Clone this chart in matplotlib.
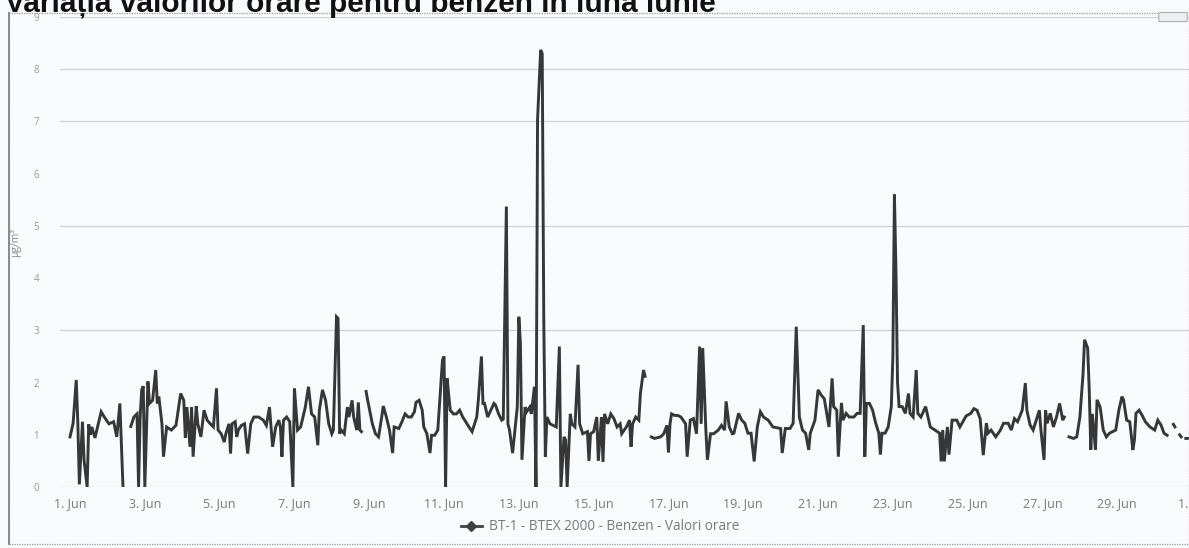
import numpy as np
import matplotlib
matplotlib.use("Agg")
import matplotlib.pyplot as plt
from matplotlib.patches import Rectangle, FancyBboxPatch
from matplotlib.lines import Line2D

nan = np.nan

# ore de la 1 iunie 00:00 si valorile orare citite (µg/m³); nan = lipsa date
hours = [
    0, 2, 4, 5, 6, 8, 9, 11, 12, 13, 14, 16, 20, 22, 25, 28, 30, 32, 34, 35,
    39, 41, 43, 44, 45, 46, 47, 48, 50, 51, 53, 55, 56, 57, 59, 60, 62, 65, 68, 71,
    73, 74, 75, 77, 78, 79, 81, 82, 84, 86, 88, 90, 92, 94, 95, 97, 99, 100, 102, 103,
    104, 106, 107, 108, 110, 112, 114, 116, 118, 121, 124, 126, 128, 130, 132, 134, 135, 136, 137, 139,
    141, 143, 144, 146, 148, 151, 153, 155, 157, 159, 160, 162, 164, 166, 168, 169, 171, 172, 173, 174,
    176, 178, 179, 181, 182, 184, 185, 186, 187, 188, 190, 191, 194, 196, 198, 200, 201, 203, 205, 207,
    208, 211, 213, 215, 217, 219, 221, 222, 224, 226, 227, 229, 231, 232, 234, 236, 239, 240, 241, 242,
    243, 244, 246, 248, 250, 252, 256, 258, 261, 262, 264, 265, 266, 268, 270, 272, 273, 275, 277, 278,
    280, 281, 282, 284, 287, 288, 289, 290, 292, 293, 295, 296, 298, 299, 300, 302, 303, 304, 305, 306,
    308, 310, 312, 314, 315, 317, 318, 319, 321, 322, 324, 326, 327, 329, 332, 333, 334, 336, 338, 339,
    341, 342, 343, 345, 347, 349, 351, 353, 354, 357, 359, 360, 361, 363, 365, 366, 368, 369, 372, 373,
    375, 379, 381, 383, 384, 385, 386, 388, 390, 392, 395, 396, 398, 400, 402, 404, 405, 406, 408, 409,
    411, 413, 416, 418, 420, 421, 423, 425, 426, 429, 431, 433, 435, 437, 439, 441, 443, 445, 448, 451,
    456, 457, 459, 462, 464, 466, 468, 470, 472, 474, 475, 478, 480, 482, 484, 487, 489, 490, 492, 493,
    495, 496, 498, 500, 503, 505, 507, 509, 510, 511, 513, 515, 517, 519, 520, 521, 523, 525, 527, 528,
    529, 530, 531, 532, 534, 536, 538, 539, 541, 543, 544, 546, 549, 552, 555, 558, 559, 560, 561, 563,
    564, 566, 569, 571, 575, 578, 580, 582, 584, 586, 588, 589, 591, 594, 597, 599, 602, 604, 606, 608,
    611, 613, 614, 616, 618, 620, 622, 623, 625, 626, 627, 629, 631, 633, 635, 637, 638, 640, 641, 644,
    646, 648, 650, 651, 653, 654, 655, 656, 658, 659, 661, 663, 665, 667, 671, 673, 675, 676, 678, 680,
    682, 683, 684, 686, 688, 690, 693, 696, 698, 700, 702, 704, 705, 708, 709, 710, 712, 713, 714, 716,
    717,
]
benzen = [
    0.96, 1.22, 2.05, 1.25, 0.05, 1.25, 0.52, 0.0, 1.2, 1.0, 1.15, 0.94, 1.44, 1.34, 1.21, 1.25, 0.96, 1.6, 0.0, nan,
    1.16, 1.34, 1.40, 0.0, 1.34, 1.86, 1.93, 0.0, 2.02, 1.6, 1.66, 2.24, 1.6, 1.73, 1.21, 0.58, 1.15, 1.09, 1.18, 1.79,
    1.66, 0.94, 1.53, 0.77, 1.53, 0.58, 1.55, 1.21, 0.96, 1.47, 1.28, 1.21, 1.15, 1.89, 1.09, 1.02, 0.86, 1.02, 1.21, 0.64,
    1.21, 1.25, 0.96, 1.09, 1.18, 1.21, 0.64, 1.21, 1.34, 1.34, 1.28, 1.18, 1.53, 0.77, 1.15, 1.28, 1.15, 0.58, 1.28, 1.34,
    1.25, 0.0, 1.89, 1.09, 1.15, 1.53, 1.92, 1.40, 1.34, 0.80, 1.47, 1.86, 1.66, 1.21, 1.02, 1.09, 3.26, 3.23, 1.02, 1.09,
    1.02, 1.53, 1.34, 1.66, 1.34, 1.09, 1.62, 1.09, 1.06, nan, 1.83, 1.66, 1.21, 1.02, 0.96, 1.34, 1.55, 1.34, 1.09, 0.65,
    1.15, 1.12, 1.25, 1.40, 1.34, 1.34, 1.44, 1.62, 1.66, 1.47, 1.15, 1.02, 0.65, 0.99, 0.99, 1.09, 2.43, 2.5, 0.0, 2.08,
    1.76, 1.47, 1.40, 1.40, 1.47, 1.34, 1.15, 1.06, 1.34, 1.66, 2.5, 1.6, 1.6, 1.34, 1.47, 1.6, 1.57, 1.40, 1.28, 1.3,
    5.37, 1.21, 1.09, 0.65, 1.53, 3.26, 2.76, 0.52, 1.53, 1.44, 1.53, 1.40, 1.92, 0.0, 7.03, 8.37, 8.3, 3.2, 0.58, 1.34,
    1.21, 1.18, 1.15, 2.69, 0.0, 0.96, 0.9, 0.0, 1.40, 1.21, 1.15, 2.34, 1.21, 1.02, 1.06, 0.5, 1.02, 1.06, 1.34, 0.5,
    1.34, 0.48, 1.40, 1.21, 1.40, 1.31, 1.15, 1.21, 1.02, 1.15, 1.28, 0.77, 1.21, 1.34, 1.28, 1.79, 2.24, 2.12, nan, 0.96,
    0.93, 0.96, 1.02, 1.18, 0.66, 1.21, 1.40, 1.37, 1.37, 1.34, 1.21, 0.58, 1.28, 1.31, 1.02, 2.69, 1.21, 2.66, 1.09, 0.52,
    1.02, 1.02, 1.09, 1.18, 1.09, 1.64, 1.15, 1.02, 1.03, 1.41, 1.28, 1.22, 1.03, 1.03, 0.49, 1.15, 1.44, 1.34, 1.28, 1.15,
    1.12, 0.65, 1.12, 1.12, 1.22, 3.07, 1.34, 1.09, 1.03, 0.71, 1.03, 1.28, 1.86, 1.76, 1.69, 1.15, 2.08, 1.54, 1.47, 0.58,
    1.61, 1.28, 1.41, 1.34, 1.34, 1.41, 1.41, 3.10, 0.58, 1.60, 1.60, 1.47, 1.22, 1.03, 0.62, 1.03, 1.03, 1.15, 1.54, 2.5,
    5.6, 4.1, 2.0, 1.54, 1.54, 1.41, 1.79, 1.41, 1.34, 2.24, 1.41, 1.34, 1.54, 1.15, 1.09, 1.03, 0.49, 1.09, 0.49, 1.15,
    0.62, 1.28, 1.28, 1.15, 1.36, 1.41, 1.50, 1.47, 1.31, 0.61, 1.22, 1.03, 1.09, 0.96, 1.09, 1.22, 1.22, 1.09, 1.31, 1.25,
    1.47, 1.99, 1.47, 1.19, 1.09, 1.28, 1.47, 1.09, 0.52, 1.47, 1.22, 1.41, 1.15, 1.34, 1.60, 1.28, 1.34, nan, 0.96, 0.93,
    0.96, 1.34, 2.15, 2.82, 2.66, 1.86, 0.71, 1.40, 0.71, 1.67, 1.53, 1.09, 0.96, 1.03, 1.09, 1.47, 1.73, 1.67, 1.28, 1.25,
    0.71, 0.90, 1.41, 1.47, 1.37, 1.25, 1.15, 1.09, 1.28, 1.19, 1.03, 0.99, nan, 1.2, 1.15, nan, 1.0, 0.96, nan, 0.93,
    0.93,
]

tick_days = [0, 2, 4, 6, 8, 10, 12, 14, 16, 18, 20, 22, 24, 26, 28, 30]
tick_labels = ["1. Jun", "3. Jun", "5. Jun", "7. Jun", "9. Jun", "11. Jun", "13. Jun", "15. Jun",
               "17. Jun", "19. Jun", "21. Jun", "23. Jun", "25. Jun", "27. Jun", "29. Jun", "1. Jul"]
y_ticks = [0, 1, 2, 3, 4, 5, 6, 7, 8, 9]
grid_visible = [3, 5, 7, 8, 9]

W, H = 1189, 548
fig = plt.figure(figsize=(W / 100, H / 100), dpi=100)
fig.patch.set_facecolor("#f9fafc")

# zona graficului (in pixeli ai imaginii)
left_px, right_px, top_px, bottom_px = 60, 1203, 17, 487
ax = fig.add_axes([left_px / W, 1 - bottom_px / H, (right_px - left_px) / W, (bottom_px - top_px) / H])
ax.set_facecolor("none")

days = np.array(hours) / 24.0
ax.plot(days, benzen, color="#363736", lw=2.1, solid_joinstyle="miter")

ax.set_xlim(-6.42 / 24, 727 / 24)
ax.set_ylim(0, 9)
ax.set_xticks(tick_days)
ax.set_xticklabels(tick_labels, fontsize=9, color="#7a7a7a", family="Open Sans")
ax.set_yticks(y_ticks)
ax.set_yticklabels([str(v) for v in y_ticks], fontsize=7, color="#999999", family="Open Sans")
ax.tick_params(axis="both", length=0)
ax.tick_params(axis="x", pad=7)
ax.tick_params(axis="y", pad=15)
for s in ax.spines.values():
    s.set_visible(False)
ax.axhline(0, color="#c8c8c8", lw=0.9, zorder=0)
for g in grid_visible:
    ax.axhline(g, color="#d2d2d2", lw=0.9, zorder=0)

fig.text(16 / W, 1 - 242 / H, "µg/m³", rotation=90, fontsize=7.5, color="#888888",
         family="Open Sans", ha="center", va="center")

# titlu (taiat sus, ca in original)
fig.text(5 / W, 1 - 12 / H, "Variația valorilor orare pentru benzen în luna iunie",
         fontsize=21.5, fontweight="bold", family="Liberation Sans", color="#111111",
         ha="left", va="baseline")

# legenda
handle = Line2D([], [], color="#3f403f", lw=2.0, marker="D", markersize=5)
fig.legend([handle], ["BT-1 - BTEX 2000 - Benzen - Valori orare"], loc="center",
           bbox_to_anchor=(600 / W, 1 - 527 / H), frameon=False, handlelength=1.6,
           handletextpad=0.5, prop={"family": "Open Sans", "size": 9.8}, labelcolor="#7a7a7a")

# chenarul exterior si butonul de export
fig.patches.append(Rectangle((9 / W, 1 - 544 / H), (W - 9) / W, (544 - 13) / H,
                             transform=fig.transFigure, fill=False, edgecolor="#9a9a9a",
                             lw=0.9, ls=(0, (1, 1))))
fig.lines.append(Line2D([9 / W, 9 / W], [1 - 544 / H, 1 - 13 / H], transform=fig.transFigure,
                        color="#8a8a8a", lw=1.4))
fig.patches.append(FancyBboxPatch((1160 / W, 1 - 21 / H), 26 / W, 8 / H,
                                  boxstyle="round,pad=0.001", transform=fig.transFigure,
                                  facecolor="#eeeeee", edgecolor="#b0b0b0", lw=0.8))

fig.savefig("out.png", dpi=100, facecolor=fig.get_facecolor())
